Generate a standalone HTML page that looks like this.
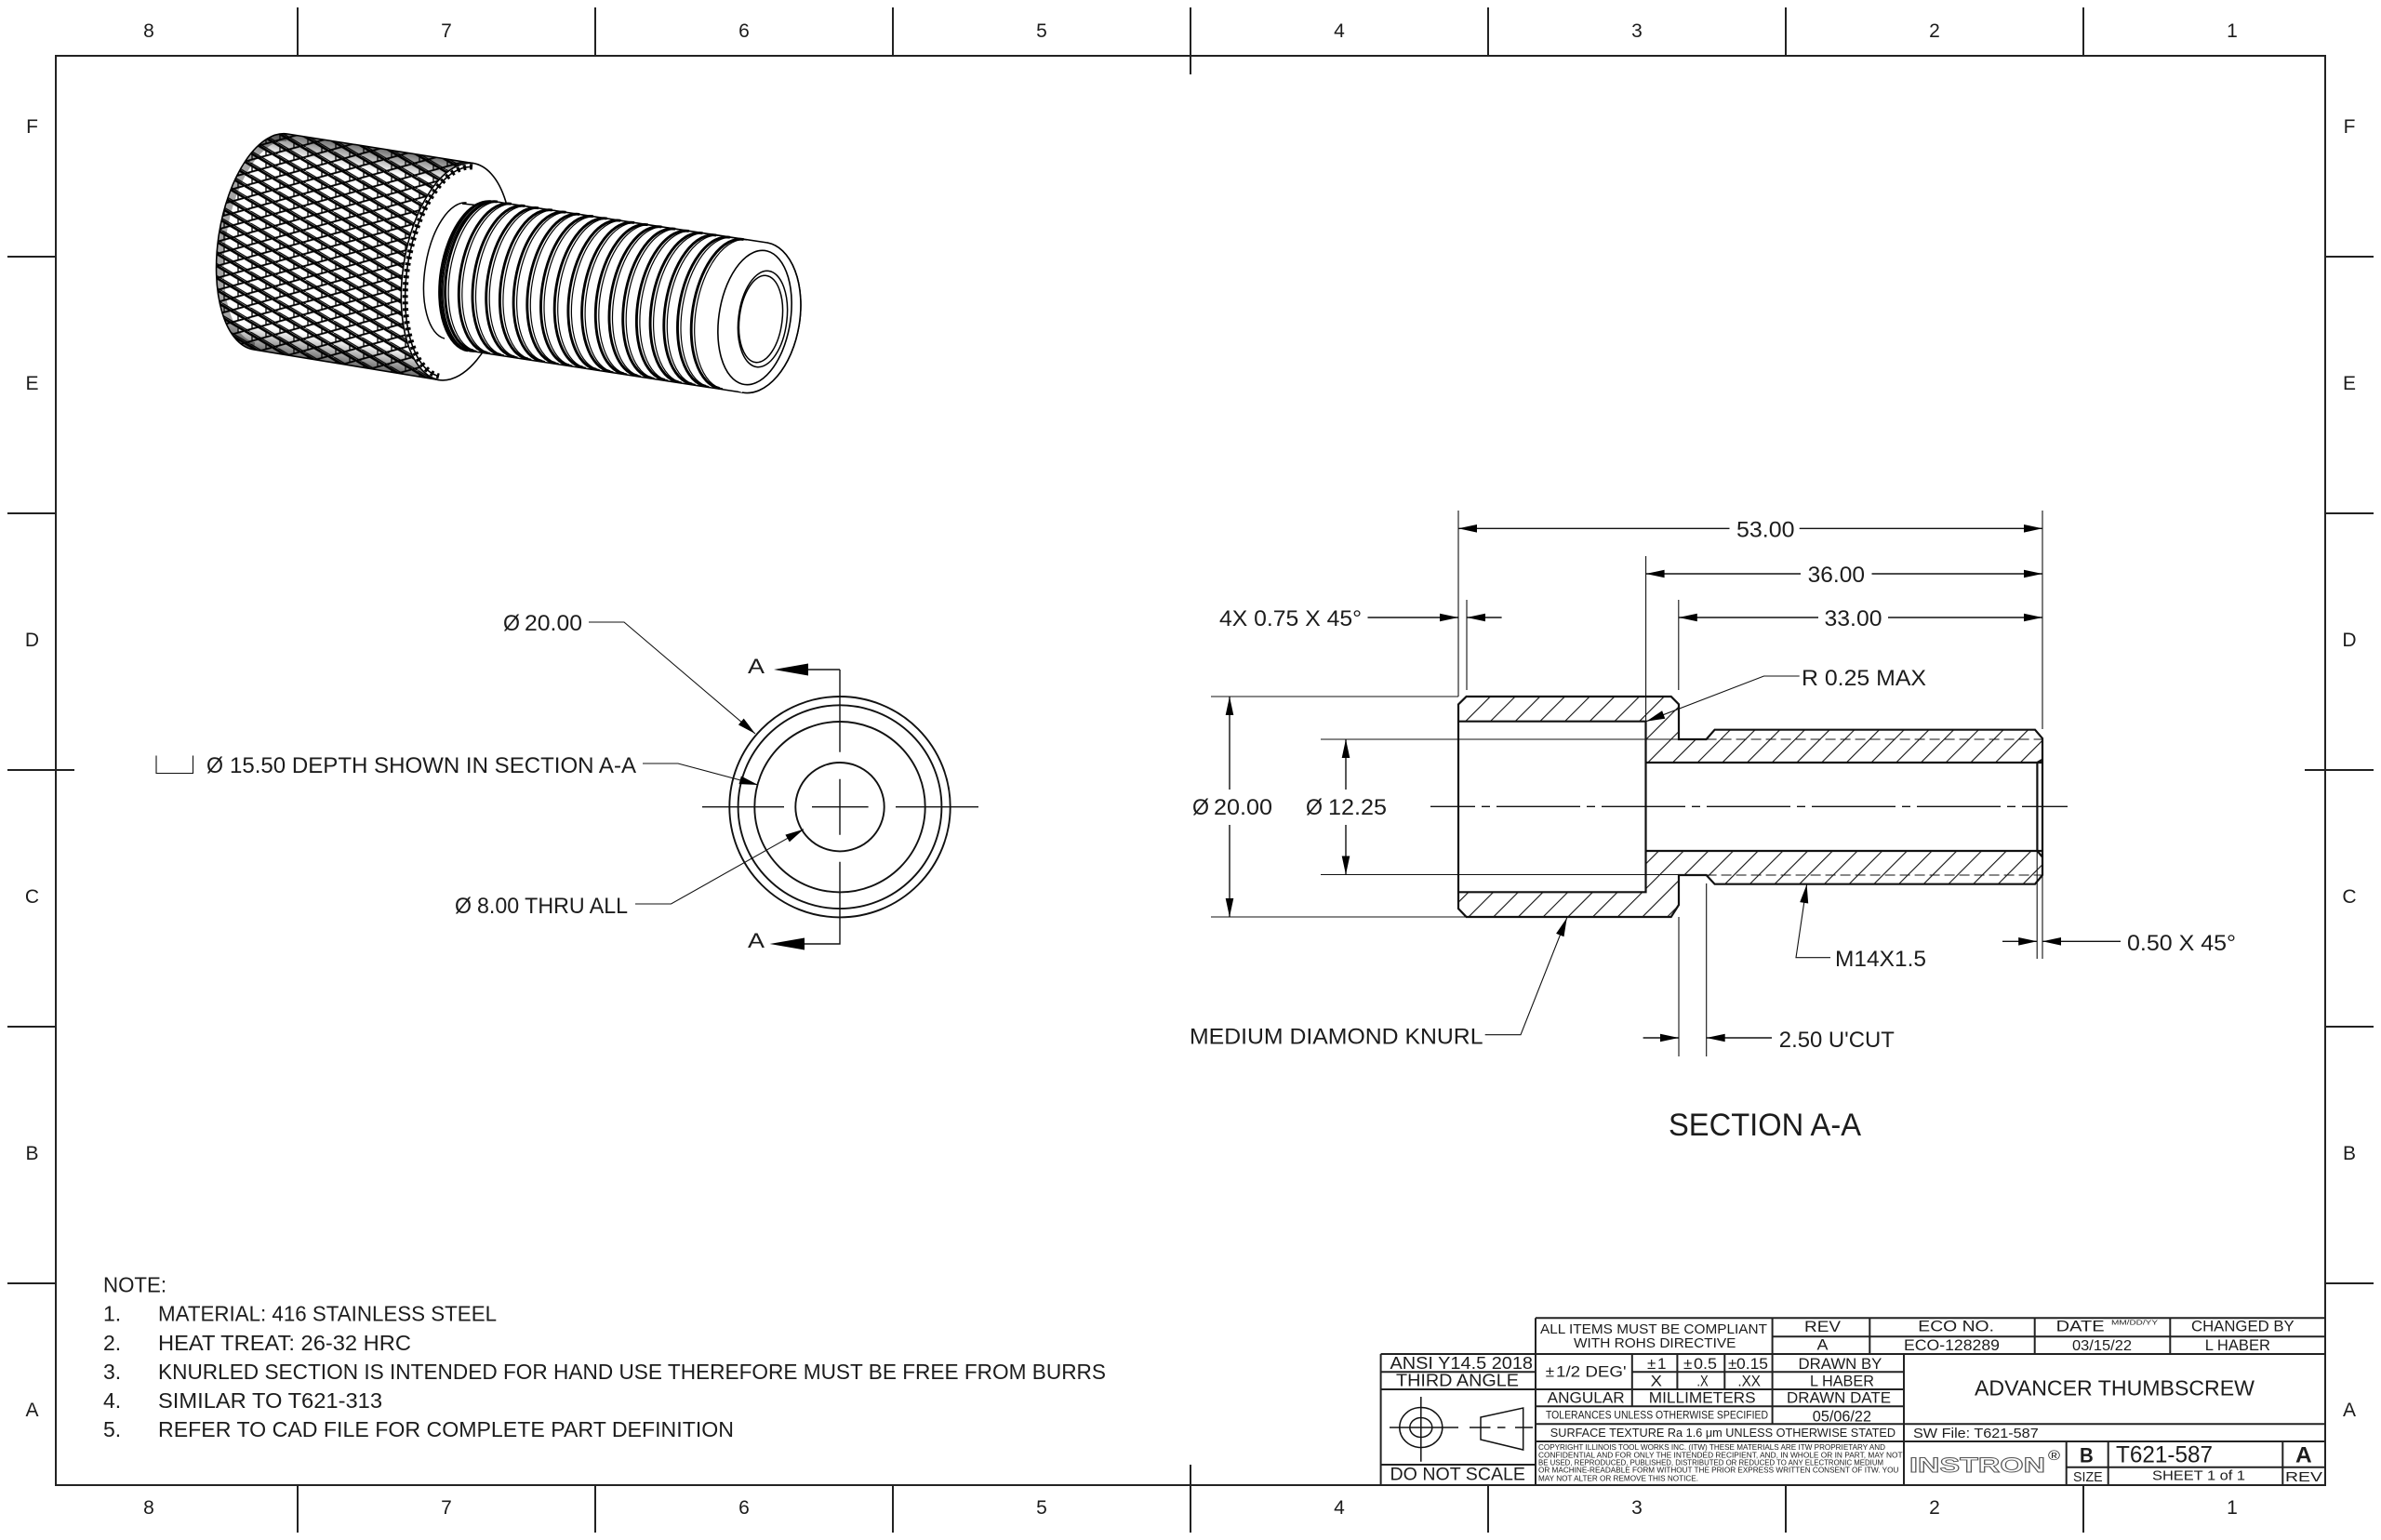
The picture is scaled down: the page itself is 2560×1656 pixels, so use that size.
<!DOCTYPE html>
<html><head><meta charset="utf-8"><title>T621-587 Advancer Thumbscrew</title>
<style>
html,body{margin:0;padding:0;background:#fff;width:2560px;height:1656px;overflow:hidden}
svg{display:block}
text{font-family:"Liberation Sans",sans-serif;fill:#1c1c1c}
.l{stroke:#111;fill:none;stroke-width:1.1}
.m{stroke:#111;fill:none;stroke-width:2.2}
.b{stroke:#222;fill:none;stroke-width:2}
.a{fill:#000;stroke:none}
</style></head><body>
<svg width="2560" height="1656" viewBox="0 0 2560 1656" xmlns="http://www.w3.org/2000/svg">
<defs>
<pattern id="h" width="18.88" height="10" patternUnits="userSpaceOnUse" patternTransform="translate(1601.6 749) rotate(45)"><rect x="0" y="0" width="1.1" height="10" fill="#111"/></pattern>
<pattern id="k" width="30" height="13" patternUnits="userSpaceOnUse" patternTransform="translate(233 143) skewY(9)">
<rect width="30" height="13" fill="#fff"/>
<path d="M0 0L30 13" stroke="#000" stroke-width="2.8" fill="none"/>
<path d="M0 13L30 0" stroke="#000" stroke-width="1.8" fill="none"/>
<path d="M6 0L21 6.5M-9 6.5L6 13M21 6.5L36 13" stroke="#000" stroke-width="1.3" fill="none"/>
<path d="M8 3.5V9.5M23 0V3M23 10V13" stroke="#000" stroke-width="1.3" fill="none"/>
</pattern>
<linearGradient id="kg" gradientUnits="userSpaceOnUse" x1="312" y1="140" x2="274" y2="380">
<stop offset="0" stop-color="#000" stop-opacity=".65"/><stop offset=".12" stop-color="#000" stop-opacity="0"/><stop offset=".88" stop-color="#000" stop-opacity="0"/><stop offset="1" stop-color="#000" stop-opacity=".65"/>
</linearGradient>
<clipPath id="kc"><path d="M309 144A56 117 9 0 0 273 376L471.5 408.5A58 118 9 0 1 508.5 175.5Z"/></clipPath>
<g id="th">
<path d="M535 217A42 81 9 0 0 509 377" fill="none" stroke="#000" stroke-width="2.9"/>
<path d="M538.5 217.5A42 81 9 0 0 512.5 377.5" fill="none" stroke="#000" stroke-width="1.2"/>
</g>
</defs>

<!-- border -->
<rect x="60" y="60" width="2440" height="1537" class="b" />
<path class="b" d="M320 8V60M640 8V60M960 8V60M1280 8V80M1600 8V60M1920 8V60M2240 8V60
M320 1597V1648M640 1597V1648M960 1597V1648M1280 1575V1648M1600 1597V1648M1920 1597V1648M2240 1597V1648
M8 276H60M8 552H60M8 828H80M8 1104H60M8 1380H60
M2500 276H2552M2500 552H2552M2478 828H2552M2500 1104H2552M2500 1380H2552"/>
<g font-size="21" text-anchor="middle">
<text x="160" y="40">8</text><text x="480" y="40">7</text><text x="800" y="40">6</text><text x="1120" y="40">5</text><text x="1440" y="40">4</text><text x="1760" y="40">3</text><text x="2080" y="40">2</text><text x="2400" y="40">1</text>
<text x="160" y="1628">8</text><text x="480" y="1628">7</text><text x="800" y="1628">6</text><text x="1120" y="1628">5</text><text x="1440" y="1628">4</text><text x="1760" y="1628">3</text><text x="2080" y="1628">2</text><text x="2400" y="1628">1</text>
<text x="34.5" y="143">F</text><text x="34.5" y="419">E</text><text x="34.5" y="695">D</text><text x="34.5" y="971">C</text><text x="34.5" y="1247">B</text><text x="34.5" y="1523">A</text>
<text x="2526" y="143">F</text><text x="2526" y="419">E</text><text x="2526" y="695">D</text><text x="2526" y="971">C</text><text x="2526" y="1247">B</text><text x="2526" y="1523">A</text>
</g>

<!-- 3D view -->
<ellipse cx="490" cy="292" rx="58" ry="118" transform="rotate(9 490 292)" fill="#fff" stroke="#000" stroke-width="1.6"/>
<path d="M309 144A56 117 9 0 0 273 376L471.5 408.5A58 118 9 0 1 508.5 175.5Z" fill="url(#k)" stroke="#000" stroke-width="1.6"/>
<path d="M309 144A56 117 9 0 0 273 376L471.5 408.5A58 118 9 0 1 508.5 175.5Z" fill="url(#kg)"/>
<g clip-path="url(#kc)">
<path d="M309 144A56 117 9 0 0 273 376" fill="none" stroke="#000" stroke-opacity=".35" stroke-width="16"/>
</g>
<ellipse cx="490" cy="292" rx="54" ry="114" transform="rotate(9 490 292)" fill="#fff"/>
<path d="M508 179.500A54 114 9 0 0 472 404.500" fill="none" stroke="#000" stroke-width="1.6"/>
<path d="M508 179.500A54 114 9 0 0 472 404.500" fill="none" stroke="#000" stroke-width="6" stroke-dasharray="3 4"/>
<path d="M501.600 218A34 74 9 0 0 478 364" fill="none" stroke="#000" stroke-width="1.5"/>
<path d="M497 219L525 222M484 363L514 372" stroke="#000" stroke-width="1.5" fill="none"/>
<path d="M527 216L825 261A48 81 9 0 1 798 422L510 378A42 81 9 0 1 527 216Z" fill="#fff" stroke="#000" stroke-width="1.6"/>
<use href="#th" x="-6" y="0"/><use href="#th" x="0" y="0"/>
<use href="#th" x="14.700" y="2.250"/><use href="#th" x="29.400" y="4.500"/><use href="#th" x="44.100" y="6.750"/><use href="#th" x="58.800" y="9"/><use href="#th" x="73.500" y="11.250"/><use href="#th" x="88.200" y="13.500"/><use href="#th" x="102.900" y="15.750"/><use href="#th" x="117.600" y="18"/><use href="#th" x="132.300" y="20.250"/><use href="#th" x="147" y="22.500"/><use href="#th" x="161.700" y="24.750"/><use href="#th" x="176.400" y="27"/><use href="#th" x="191.100" y="29.250"/><use href="#th" x="205.800" y="31.500"/><use href="#th" x="220.500" y="33.750"/><use href="#th" x="235.200" y="36"/><use href="#th" x="249.900" y="38.250"/><use href="#th" x="264.600" y="40.500"/>
<path d="M825 261A48 81 9 0 1 798 422A38 72 9 0 1 825 270Z" fill="#fff"/>
<path d="M825 261A48 81 9 0 1 798 422M825 270A38 72 9 0 1 798 413M825 270A38 72 9 0 0 798 413" fill="none" stroke="#000" stroke-width="1.6"/>
<ellipse cx="820" cy="343" rx="26" ry="52" transform="rotate(7 820 343)" fill="#fff" stroke="#000" stroke-width="1.5"/>
<ellipse cx="818" cy="343" rx="23" ry="47" transform="rotate(7 818 343)" fill="#fff" stroke="#000" stroke-width="1.5"/>

<!-- Front view -->
<g class="m" style="stroke-width:1.9"><circle cx="903" cy="867.700" r="118.700"/><circle cx="903" cy="867.700" r="109.400"/><circle cx="903" cy="867.700" r="91.700"/><circle cx="903" cy="867.700" r="47.700"/></g>
<path class="l" style="stroke-width:1.4" d="M755 867.700H843M873 867.700H933.600M963 867.700H1052M903 720V808.700M903 837.700V897.700M903 926.700V1015H865M903 720H869"/>
<polygon class="a" points="832,720 869,713.500 869,726.500"/><polygon class="a" points="827.600,1015 865,1008.500 865,1021.500"/>
<text x="804" y="724" font-size="22" textLength="18" lengthAdjust="spacingAndGlyphs">A</text>
<text x="804" y="1019" font-size="22" textLength="18" lengthAdjust="spacingAndGlyphs">A</text>
<path class="l" d="M633 669H671L812 789M691 821H729L815 844M683 972H721.500L864 891.700"/>
<polygon class="a" points="812,789 793.900,779.400 799.700,772.600"/><polygon class="a" points="815,844 794.500,843.100 796.900,834.500"/><polygon class="a" points="864,891.700 848.800,905.400 844.400,897.600"/>
<g font-size="24">
<text x="541" y="678" textLength="18" lengthAdjust="spacingAndGlyphs">Ø</text><text x="564" y="678" textLength="62" lengthAdjust="spacingAndGlyphs">20.00</text>
<text x="222" y="831" textLength="18" lengthAdjust="spacingAndGlyphs">Ø</text><text x="247" y="831" textLength="437" lengthAdjust="spacingAndGlyphs">15.50 DEPTH SHOWN IN SECTION A-A</text>
<text x="489" y="982" textLength="18" lengthAdjust="spacingAndGlyphs">Ø</text><text x="513" y="982" textLength="162" lengthAdjust="spacingAndGlyphs">8.00 THRU ALL</text>
</g>
<path class="l" d="M168 812.500V831.500H207.500V812.500"/>

<!-- Section -->
<path d="M1568 757.500L1576.600 749H1796.700L1805 757.300V795H1834.600L1843.600 784.700H2188L2196 794V816.700L2190.400 820H1769.500V775.700H1568Z" fill="url(#h)"/>
<path d="M1769.500 915H2190.400L2196 921.700V941L2188 950.700H1843.600L1834.600 941H1805V973L1796.700 986H1576.600L1568 977V959.300H1769.500Z" fill="url(#h)"/>
<path class="m" d="M1568 977V757.500L1576.600 749H1796.700L1805 757.300V795H1834.600L1843.600 784.700H2188L2196 794V941L2188 950.700H1843.600L1834.600 941H1805V973L1796.700 986H1576.600L1568 977ZM1568 775.700H1769.500V959.300H1568M1769.500 820H2196M1769.500 915H2196M2190.400 820V915M2190.400 820L2196 816.700M2190.400 915L2196 921.700"/>
<path class="l" stroke-dasharray="11 5" d="M1834.600 795H2196M1834.600 941H2196"/>
<path class="l" stroke-dasharray="90 7 9 7" stroke-dashoffset="42" d="M1538 867.300H2223" style="stroke-width:1.4"/>
<!-- extension lines -->
<path class="l" d="M1568 549V749M2196 549V784M1769.600 598V775M1804.800 645V742M1577 645V742M1302 749H1568M1420 795H1805M1420 940.500H1805M1302 986H1577M1805 986V1136M1834.700 950V1136M2190.200 915V1031M2196 941V1031"/>
<!-- dim lines -->
<path class="l" style="stroke-width:1.4" d="M1568 568.300H1859.500M1934.700 568.300H2196M1769.600 617H1936M2012.500 617H2196M1804.800 664H1955M2030 664H2196M1470.500 664H1568M1577 664H1614.600M1322 749V849M1322 887V986M1447 795V849M1447 887V940.500M1766.600 1116H1805M1834.700 1116H1905M2153 1012.300H2190.200M2196 1012.300H2280"/>
<path class="l" d="M1934.700 727H1896.500L1770 775.700M1596.700 1112.700H1635L1684.700 987M1968 1029.700H1931L1942.600 951"/>
<g class="a">
<polygon points="1568,568.300 1588,564 1588,572.600"/><polygon points="2196,568.300 2176,564 2176,572.600"/>
<polygon points="1769.600,617 1789.600,612.700 1789.600,621.300"/><polygon points="2196,617 2176,612.700 2176,621.300"/>
<polygon points="1804.800,664 1824.800,659.700 1824.800,668.300"/><polygon points="2196,664 2176,659.700 2176,668.300"/>
<polygon points="1568,664 1548,659.700 1548,668.300"/><polygon points="1577,664 1597,659.700 1597,668.300"/>
<polygon points="1322,749 1317.700,769 1326.300,769"/><polygon points="1322,986 1317.700,966 1326.300,966"/>
<polygon points="1447,795 1442.700,815 1451.300,815"/><polygon points="1447,940.500 1442.700,920.500 1451.300,920.500"/>
<polygon points="1805,1116 1785,1111.700 1785,1120.300"/><polygon points="1834.700,1116 1854.700,1111.700 1854.700,1120.300"/>
<polygon points="2190.200,1012.300 2170.200,1008 2170.200,1016.600"/><polygon points="2196,1012.300 2216,1008 2216,1016.600"/>
<polygon points="1770,775.700 1790.300,772.700 1787.100,764.300"/><polygon points="1684.700,987 1681.500,1007.300 1673.100,1003.900"/><polygon points="1942.600,951 1944.200,971.500 1935.200,970.100"/>
</g>
<g font-size="24">
<text x="1867" y="577.700" textLength="62.500" lengthAdjust="spacingAndGlyphs">53.00</text>
<text x="1943.700" y="626" textLength="61.300" lengthAdjust="spacingAndGlyphs">36.00</text>
<text x="1961.500" y="673" textLength="62" lengthAdjust="spacingAndGlyphs">33.00</text>
<text x="1311" y="673" textLength="153" lengthAdjust="spacingAndGlyphs">4X 0.75 X 45°</text>
<text x="1937" y="737" textLength="134" lengthAdjust="spacingAndGlyphs">R 0.25 MAX</text>
<text x="1282" y="876" textLength="18" lengthAdjust="spacingAndGlyphs">Ø</text><text x="1305" y="876" textLength="63" lengthAdjust="spacingAndGlyphs">20.00</text>
<text x="1404" y="876" textLength="18" lengthAdjust="spacingAndGlyphs">Ø</text><text x="1428" y="876" textLength="63" lengthAdjust="spacingAndGlyphs">12.25</text>
<text x="1279" y="1122.700" textLength="315.500" lengthAdjust="spacingAndGlyphs">MEDIUM DIAMOND KNURL</text>
<text x="1912.800" y="1126" textLength="124" lengthAdjust="spacingAndGlyphs">2.50 U'CUT</text>
<text x="1973" y="1039" textLength="98" lengthAdjust="spacingAndGlyphs">M14X1.5</text>
<text x="2287" y="1022" textLength="117" lengthAdjust="spacingAndGlyphs">0.50 X 45°</text>
</g>
<text x="1794" y="1221" font-size="34" textLength="207" lengthAdjust="spacingAndGlyphs">SECTION A-A</text>

<!-- Notes -->
<g font-size="23">
<text x="111" y="1389.700" textLength="68" lengthAdjust="spacingAndGlyphs">NOTE:</text>
<text x="111" y="1420.700">1.</text><text x="170" y="1420.700" textLength="364" lengthAdjust="spacingAndGlyphs">MATERIAL: 416 STAINLESS STEEL</text>
<text x="111" y="1452">2.</text><text x="170" y="1452" textLength="272" lengthAdjust="spacingAndGlyphs">HEAT TREAT: 26-32 HRC</text>
<text x="111" y="1483">3.</text><text x="170" y="1483" textLength="1019" lengthAdjust="spacingAndGlyphs">KNURLED SECTION IS INTENDED FOR HAND USE THEREFORE MUST BE FREE FROM BURRS</text>
<text x="111" y="1514">4.</text><text x="170" y="1514" textLength="241" lengthAdjust="spacingAndGlyphs">SIMILAR TO T621-313</text>
<text x="111" y="1545">5.</text><text x="170" y="1545" textLength="619" lengthAdjust="spacingAndGlyphs">REFER TO CAD FILE FOR COMPLETE PART DEFINITION</text>
</g>

<!-- Title block -->
<path class="b" d="M1651 1417.300H2500M1905.600 1437.300H2500M1484.600 1456H2500M1484.600 1475.300H1651M1754.800 1475.300H2047M1484.600 1494H2047M1651 1512.300H2047M1651 1531.300H2500M1651 1550H2500M1484.600 1575H1651M2221.700 1577.700H2500
M1484.600 1456V1597M1651 1417.300V1597M1754.800 1456V1512.300M1803.400 1456V1494M1854.300 1456V1494M1905.600 1417.300V1531.300M2010.300 1417.300V1456M2047 1456V1597M2187.700 1417.300V1456M2333.300 1417.300V1456M2221.700 1550V1597M2266.700 1550V1597M2454.300 1550V1597"/>
<g font-size="17">
<text x="1656" y="1434" font-size="15" textLength="244" lengthAdjust="spacingAndGlyphs">ALL ITEMS MUST BE COMPLIANT</text>
<text x="1692" y="1449" font-size="15" textLength="174.400" lengthAdjust="spacingAndGlyphs">WITH ROHS DIRECTIVE</text>
<text x="1940" y="1432" textLength="39" lengthAdjust="spacingAndGlyphs">REV</text>
<text x="1953.500" y="1451.500" textLength="12" lengthAdjust="spacingAndGlyphs">A</text>
<text x="2062.300" y="1431.700" textLength="81.700" lengthAdjust="spacingAndGlyphs">ECO NO.</text>
<text x="2047" y="1452" textLength="103" lengthAdjust="spacingAndGlyphs">ECO-128289</text>
<text x="2210.700" y="1431.700" textLength="52" lengthAdjust="spacingAndGlyphs">DATE</text>
<text x="2270" y="1424.700" font-size="7" textLength="50" lengthAdjust="spacingAndGlyphs">MM/DD/YY</text>
<text x="2228" y="1452" font-size="16" textLength="64" lengthAdjust="spacingAndGlyphs">03/15/22</text>
<text x="2356" y="1431.700" textLength="110.700" lengthAdjust="spacingAndGlyphs">CHANGED BY</text>
<text x="2370.700" y="1452" textLength="70.300" lengthAdjust="spacingAndGlyphs">L HABER</text>
<text x="1494.500" y="1472" font-size="18" textLength="153.500" lengthAdjust="spacingAndGlyphs">ANSI Y14.5 2018</text>
<text x="1501" y="1490.700" font-size="18" textLength="132" lengthAdjust="spacingAndGlyphs">THIRD ANGLE</text>
<text x="1494.500" y="1591.500" font-size="19" textLength="145.500" lengthAdjust="spacingAndGlyphs">DO NOT SCALE</text>
<text x="1661.800" y="1480.700" textLength="11">±</text>
<text x="1673" y="1480.700" textLength="75.600" lengthAdjust="spacingAndGlyphs">1/2 DEG'</text>
<text x="1771" y="1472" textLength="10">±</text><text x="1782" y="1472" textLength="9.500" lengthAdjust="spacingAndGlyphs">1</text>
<text x="1810" y="1472" textLength="10">±</text><text x="1821" y="1472" textLength="25" lengthAdjust="spacingAndGlyphs">0.5</text>
<text x="1858" y="1472" textLength="9">±</text><text x="1867" y="1472" textLength="34" lengthAdjust="spacingAndGlyphs">0.15</text>
<text x="1774.700" y="1490.700" textLength="12.300" lengthAdjust="spacingAndGlyphs">X</text>
<text x="1824.400" y="1490.700" textLength="12.300" lengthAdjust="spacingAndGlyphs">.X</text>
<text x="1868.400" y="1490.700" textLength="24.600" lengthAdjust="spacingAndGlyphs">.XX</text>
<text x="1933.500" y="1472" textLength="89.900" lengthAdjust="spacingAndGlyphs">DRAWN BY</text>
<text x="1946" y="1490.700" textLength="69" lengthAdjust="spacingAndGlyphs">L HABER</text>
<text x="1663.700" y="1508.700" textLength="83" lengthAdjust="spacingAndGlyphs">ANGULAR</text>
<text x="1772.800" y="1508.700" textLength="114.800" lengthAdjust="spacingAndGlyphs">MILLIMETERS</text>
<text x="1921" y="1508.700" textLength="112" lengthAdjust="spacingAndGlyphs">DRAWN DATE</text>
<text x="1662" y="1525.700" font-size="11.500" textLength="239" lengthAdjust="spacingAndGlyphs">TOLERANCES UNLESS OTHERWISE SPECIFIED</text>
<text x="1948.800" y="1528.300" textLength="63.200" lengthAdjust="spacingAndGlyphs">05/06/22</text>
<text x="1666.800" y="1545" font-size="12.500" textLength="371.200" lengthAdjust="spacingAndGlyphs">SURFACE TEXTURE Ra  1.6 μm  UNLESS OTHERWISE STATED</text>
<text x="2123" y="1500.700" font-size="23" textLength="301" lengthAdjust="spacingAndGlyphs">ADVANCER THUMBSCREW</text>
<text x="2057" y="1546" font-size="15" textLength="134.700" lengthAdjust="spacingAndGlyphs">SW File: T621-587</text>
<text x="2275" y="1572.300" font-size="25" textLength="104" lengthAdjust="spacingAndGlyphs">T621-587</text>
<text x="2236" y="1572.300" font-size="22" font-weight="bold" textLength="14.700" lengthAdjust="spacingAndGlyphs">B</text>
<text x="2468" y="1572.300" font-size="24" font-weight="bold" textLength="17.700" lengthAdjust="spacingAndGlyphs">A</text>
<text x="2229" y="1593" font-size="15" textLength="31.700" lengthAdjust="spacingAndGlyphs">SIZE</text>
<text x="2314" y="1591.700" font-size="15" textLength="100" lengthAdjust="spacingAndGlyphs">SHEET 1 of 1</text>
<text x="2457" y="1593" font-size="15" textLength="40" lengthAdjust="spacingAndGlyphs">REV</text>
</g>
<text x="2053" y="1583" font-size="22" font-weight="bold" textLength="146" lengthAdjust="spacingAndGlyphs" style="fill:#fff;stroke:#555;stroke-width:.9">INSTRON</text>
<text x="2202" y="1570" font-size="15" textLength="13" lengthAdjust="spacingAndGlyphs">®</text>
<g font-size="8.500">
<text x="1654" y="1559" textLength="373" lengthAdjust="spacingAndGlyphs">COPYRIGHT ILLINOIS TOOL WORKS INC. (ITW) THESE MATERIALS ARE ITW PROPRIETARY AND</text>
<text x="1654" y="1567.300" textLength="391.600" lengthAdjust="spacingAndGlyphs">CONFIDENTIAL AND FOR ONLY THE INTENDED RECIPIENT, AND, IN WHOLE OR IN PART, MAY NOT</text>
<text x="1654" y="1575.500" textLength="371" lengthAdjust="spacingAndGlyphs">BE USED, REPRODUCED, PUBLISHED, DISTRIBUTED OR REDUCED TO ANY ELECTRONIC MEDIUM</text>
<text x="1654" y="1583.700" textLength="387.400" lengthAdjust="spacingAndGlyphs">OR MACHINE-READABLE FORM WITHOUT THE PRIOR EXPRESS WRITTEN CONSENT OF ITW.  YOU</text>
<text x="1654" y="1592.300" textLength="172" lengthAdjust="spacingAndGlyphs">MAY NOT ALTER OR REMOVE THIS NOTICE.</text>
</g>
<!-- third angle symbol -->
<g class="l" style="stroke-width:1.5">
<ellipse cx="1527.800" cy="1535" rx="23" ry="21.500"/><ellipse cx="1527.800" cy="1535" rx="12" ry="10.500"/>
<path d="M1527.800 1502V1571.700M1494 1535H1568M1580 1535H1602.500M1610 1535H1618.500M1629 1535H1648M1592 1524L1637.700 1514V1559L1592 1548Z"/>
</g>
</svg>
</body></html>
